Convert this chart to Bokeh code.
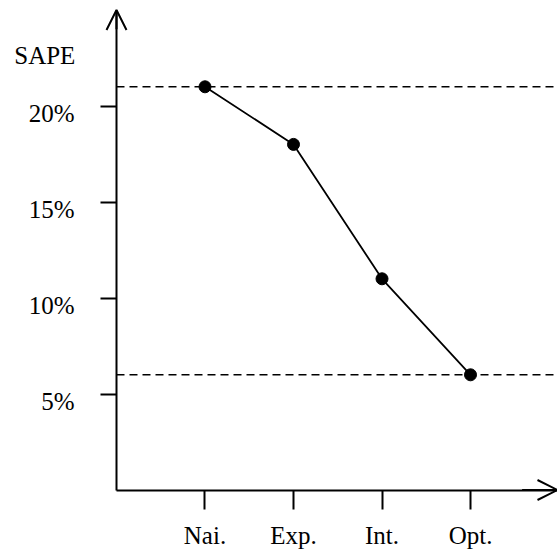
from bokeh.plotting import figure
from bokeh.models import (Range1d, FixedTicker, Arrow, OpenHead, Label,
                          ColumnDataSource)
from bokeh.core.properties import value
from bokeh.embed import file_html
from bokeh.resources import INLINE

# ---- data ----
methods = ["Nai.", "Exp.", "Int.", "Opt."]
method_pos = [1, 2, 3, 4]
sape = [21, 18, 11, 6]
y_ticks = [5, 10, 15, 20]
y_tick_labels = ["5%", "10%", "15%", "20%"]
ref_lines = [21, 6]

FONT = "Liberation Serif"
X_END = 4.983
Y_END = 25.0

p = figure(width=557, height=552, output_backend="svg", toolbar_location=None,
           x_range=Range1d(-1.3107, X_END), y_range=Range1d(-3.255, 25.495),
           min_border=0, min_border_left=0, min_border_right=0,
           min_border_top=0, min_border_bottom=0)
p.outline_line_color = None
p.grid.visible = False
p.background_fill_color = "white"
p.border_fill_color = "white"

# x axis (drawn at y = 0)
xa = p.xaxis[0]
xa.fixed_location = 0
xa.bounds = (0, X_END)
xa.ticker = FixedTicker(ticks=method_pos)
xa.major_label_overrides = {pos: lab for pos, lab in zip(method_pos, methods)}
xa.axis_line_width = 2
xa.major_tick_line_width = 2
xa.major_tick_in = 0
xa.major_tick_out = 19
xa.minor_tick_line_color = None
xa.major_label_standoff = 13
xa.major_label_text_font = FONT
xa.major_label_text_font_size = "25px"
xa.major_label_text_color = "black"

# y axis (drawn at x = 0)
ya = p.yaxis[0]
ya.fixed_location = 0
ya.bounds = (0, Y_END)
ya.ticker = FixedTicker(ticks=y_ticks)
ya.axis_line_width = 2
ya.major_tick_line_width = 2
ya.major_tick_in = 0
ya.major_tick_out = 16
ya.minor_tick_line_color = None
ya.major_label_text_color = None

# y tick labels (slightly below the tick, as in the reference)
p.text(x=[0] * len(y_ticks), y=y_ticks, text=y_tick_labels,
       x_offset=-42, y_offset=7, text_align="right", text_baseline="middle",
       text_font=value(FONT), text_font_size="25px", text_color="black")

# dashed reference lines starting at the y axis
p.ray(x=[0] * len(ref_lines), y=ref_lines, length=0, angle=0,
      line_color="black", line_width=1.6, line_dash="8 5")

# arrow heads on axes
p.add_layout(Arrow(end=OpenHead(size=20, line_width=2, line_color="black"),
                   x_start=0, y_start=Y_END - 1, x_end=0, y_end=Y_END,
                   line_width=2, line_color="black"))
p.add_layout(Arrow(end=OpenHead(size=20, line_width=2, line_color="black"),
                   x_start=X_END - 0.4, y_start=0, x_end=X_END, y_end=0,
                   line_width=2, line_color="black"))

# data line and markers
src = ColumnDataSource(dict(x=method_pos, y=sape))
p.line("x", "y", source=src, line_color="black", line_width=1.8)
p.scatter("x", "y", source=src, size=12, color="black")

# axis title
p.add_layout(Label(x=-0.81, y=22.65, text="SAPE", text_align="center",
                   text_baseline="alphabetic", text_font=FONT,
                   text_font_size="25px", text_color="black"))

open("out.html", "w").write(file_html(p, INLINE))
